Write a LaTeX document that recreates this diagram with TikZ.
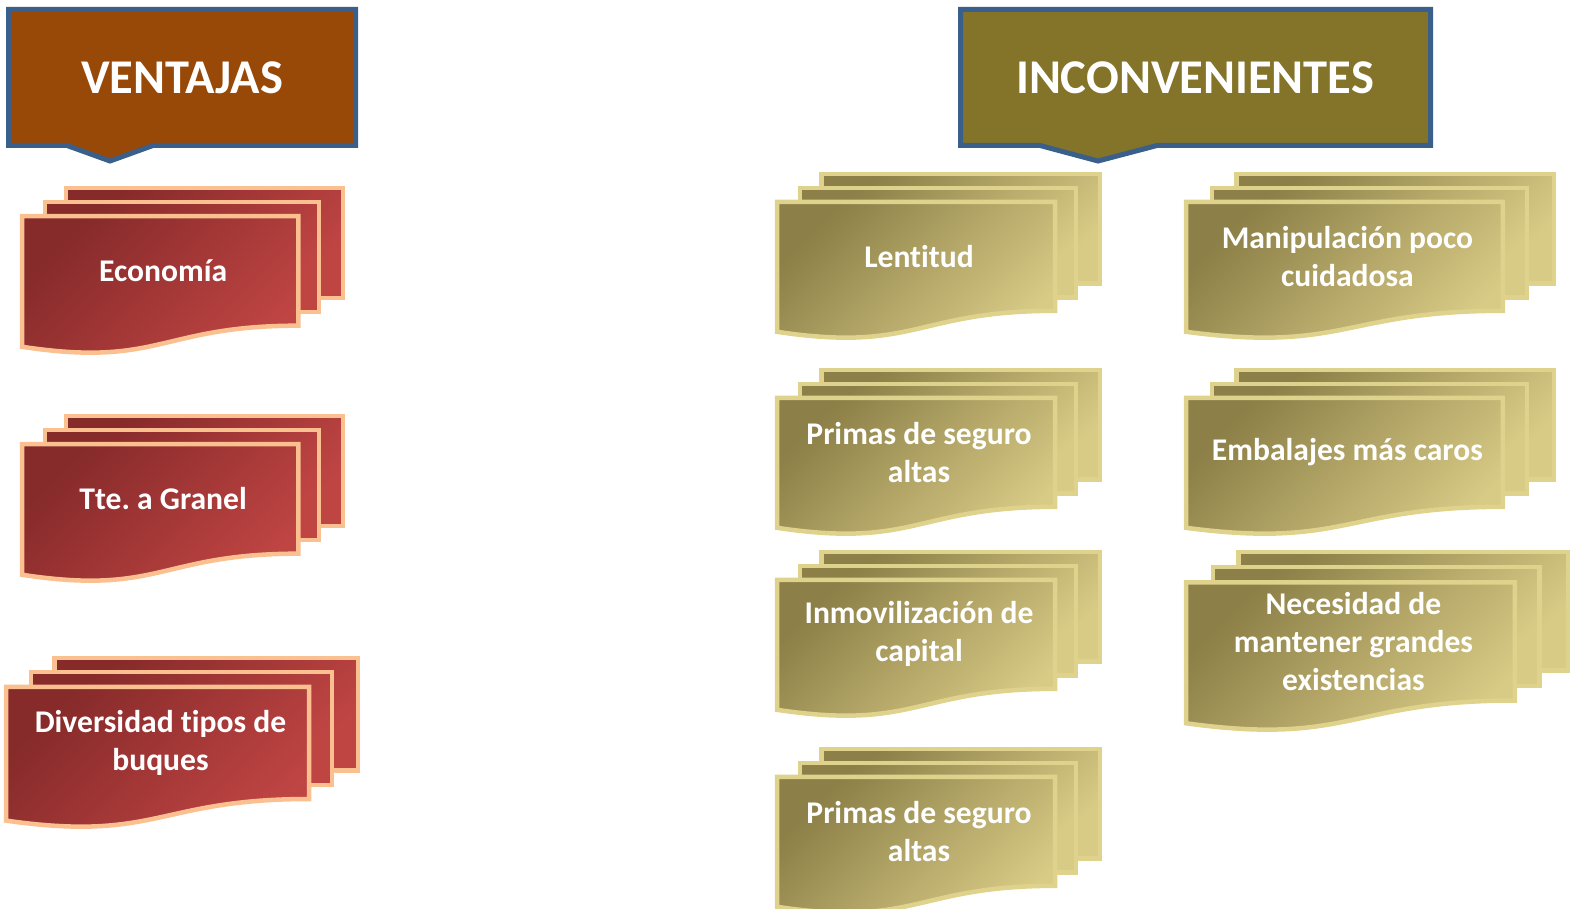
\documentclass[tikz,border=0pt]{standalone}
\usepackage{fontspec}
\setmainfont{Carlito}[Ligatures={NoCommon}]
\frenchspacing
\definecolor{hdrblue}{HTML}{3A5F8B}
\definecolor{vbrown}{HTML}{984807}
\definecolor{iolive}{HTML}{847429}
\definecolor{reddark}{HTML}{862A2A}
\definecolor{redlight}{HTML}{BF4543}
\definecolor{rededge}{HTML}{FAC090}
\definecolor{golddark}{HTML}{8C7F47}
\definecolor{goldlight}{HTML}{D8CB86}
\definecolor{goldedge}{HTML}{DFD28D}
\tikzset{
  hdr/.style={draw=hdrblue, line width=5pt, line join=miter},
  hdrtext/.style={text=white, inner sep=0pt, font=\fontsize{48.5}{58}\selectfont\bfseries},
  redpage/.style={draw=rededge, line width=4.5pt, top color=reddark, bottom color=redlight, shading angle=45},
  goldpage/.style={draw=goldedge, line width=4.5pt, top color=golddark, bottom color=goldlight, shading angle=45},
  doctext/.style={text=white, align=center, inner sep=0pt, font=\fontsize{31.6}{38}\selectfont\bfseries},
}
\newcommand\mdoc[7]{%
  \pgfmathsetmacro\mdocxu{#3/216}%
  \pgfmathsetmacro\mdocyu{#4/216}%
  \begin{scope}[shift={(#1,#2)}, x=\mdocxu pt, y=-\mdocyu pt]
    \path[#5] (29.72,0) rectangle (216,143.92);
    \path[#5] (15.32,18.15) rectangle (200,162.52);
    \path[#5] (0,207.82) .. controls (92.98,235.42) and (92.98,180.22) .. (185.95,180.22)
       -- (185.95,36.75) -- (0,36.75) -- cycle;
    \node[doctext, xshift=3pt] (#6) at (92.97,108.13) {#7};
  \end{scope}}
\begin{document}
\begin{tikzpicture}[x=1pt, y=-1pt]
\useasboundingbox (0,0) rectangle (1570,909);
% headers
\path[hdr, fill=vbrown] (8.5,9.5) -- (355.5,9.5) -- (355.5,145.5) -- (153,145.5)
  -- (110,161) -- (67,145.5) -- (8.5,145.5) -- cycle;
\node[hdrtext, anchor=base] (vent) at (182,94) {VENTAJAS};
\path[hdr, fill=iolive] (960.5,9.5) -- (1430.5,9.5) -- (1430.5,145.5) -- (1157,145.5)
  -- (1098,161) -- (1040,145.5) -- (960.5,145.5) -- cycle;
\node[hdrtext, anchor=base] (inco) at (1195,94) {INCONVENIENTES};
% ventajas
\mdoc{22}{188}{321}{165}{redpage}{econ}{Economía}
\mdoc{22}{416}{321}{165}{redpage}{granel}{Tte. a Granel}
\mdoc{6}{658}{352}{169}{redpage}{divers}{Diversidad tipos de\\buques}
% inconvenientes
\mdoc{777}{174}{323}{164}{goldpage}{lent}{Lentitud}
\mdoc{1186}{174}{368}{164}{goldpage}{manip}{Manipulación poco\\cuidadosa}
\mdoc{777}{370}{323}{164}{goldpage}{primasA}{Primas de seguro\\altas}
\mdoc{1186}{370}{368}{164}{goldpage}{embal}{Embalajes más caros}
\mdoc{777}{552}{323}{164}{goldpage}{inmov}{Inmovilización de\\capital}
\mdoc{1186}{552}{382}{178}{goldpage}{neces}{Necesidad de\\mantener grandes\\existencias}
\mdoc{777}{749}{323}{164}{goldpage}{primasB}{Primas de seguro\\altas}
\end{tikzpicture}
\end{document}
